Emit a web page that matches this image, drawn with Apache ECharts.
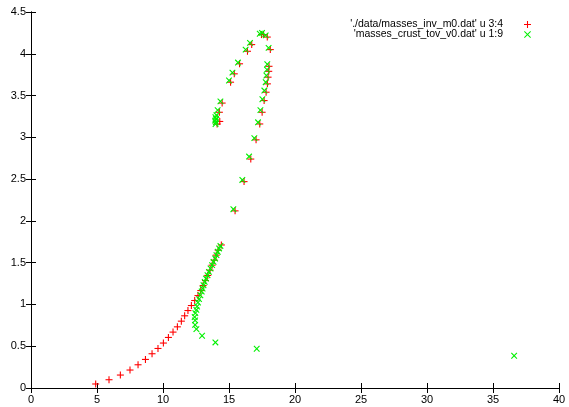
<!DOCTYPE html>
<html>
<head>
<meta charset="utf-8">
<script src="https://cdn.jsdelivr.net/npm/echarts@6/dist/echarts.min.js"></script>
<style>html,body{margin:0;padding:0;background:#fff}#c{width:569px;height:407px}</style>
</head>
<body>
<div id="c"></div>
<script>
var seriesNames = ["'./data/masses_inv_m0.dat' u 3:4", "'masses_crust_tov_v0.dat' u 1:9"];
var xTicks = [0, 5, 10, 15, 20, 25, 30, 35, 40];
var yTicks = [0, 0.5, 1, 1.5, 2, 2.5, 3, 3.5, 4, 4.5];

var invRadius = [4.90,5.91,6.77,7.50,8.11,8.67,9.17,9.62,10.03,10.41,10.76,11.09,11.39,11.64,11.89,12.15,12.40,12.65,12.86,
  13.04,13.22,13.39,13.56,13.72,13.88,14.03,14.18,14.42,
  15.46,16.14,16.65,17.05,17.33,17.51,17.66,17.81,17.91,17.96,18.01,18.03,18.13,17.90,17.62,17.46,16.72,16.40,15.80,15.40,15.12,14.48,14.27,14.30,14.10];
var invMass = [0.048,0.099,0.155,0.215,0.278,0.342,0.410,0.473,0.538,0.605,0.669,0.732,0.800,0.864,0.927,0.987,1.047,1.106,1.166,
  1.226,1.286,1.347,1.410,1.470,1.530,1.590,1.650,1.712,
  2.12,2.47,2.74,2.97,3.16,3.30,3.44,3.54,3.64,3.72,3.79,3.85,4.05,4.20,4.23,4.23,4.11,4.03,3.88,3.76,3.66,3.41,3.30,3.19,3.16];

var tovRadius = [13.98,14.00,13.95,14.02,13.97,14.05,14.14,14.35,15.00,15.26,15.68,16.26,16.59,17.33,17.50,17.78,18.00,
  17.90,17.88,17.83,17.78,17.68,17.53,17.38,17.20,16.92,16.52,16.01,15.33,14.35,
  14.25,14.15,14.05,13.95,13.83,13.72,13.60,13.48,13.37,13.26,13.16,13.07,13.00,12.93,12.83,12.73,12.65,12.58,12.53,12.45,12.40,12.43,12.43,12.53,12.96,13.97,17.10,36.60];
var tovMass = [3.16,3.18,3.20,3.22,3.24,3.265,3.325,3.43,3.68,3.775,3.895,4.05,4.13,4.24,4.25,4.22,4.07,
  3.875,3.81,3.74,3.66,3.56,3.456,3.325,3.18,2.99,2.77,2.49,2.14,1.70,
  1.67,1.63,1.59,1.55,1.51,1.47,1.43,1.39,1.35,1.31,1.27,1.23,1.19,1.155,1.11,1.063,1.023,0.975,0.935,0.896,0.85,0.81,0.756,0.705,0.625,0.545,0.47,0.386];

function pairs(xs, ys){ var out=[]; for(var i=0;i<xs.length;i++) out.push([xs[i], ys[i]]); return out; }

var plusIcon = 'path://M-0.15,-1 L0.15,-1 L0.15,-0.15 L1,-0.15 L1,0.15 L0.15,0.15 L0.15,1 L-0.15,1 L-0.15,0.15 L-1,0.15 L-1,-0.15 L-0.15,-0.15 Z';
var crossIcon = 'path://M-1,-0.8 L-0.8,-1 L0,-0.2 L0.8,-1 L1,-0.8 L0.2,0 L1,0.8 L0.8,1 L0,0.2 L-0.8,1 L-1,0.8 L-0.2,0 Z';

function markerRenderer(kind, half, color){
  return function(params, api){
    var p = api.coord([api.value(0), api.value(1)]);
    var x = p[0], y = p[1], s = half;
    var style = {stroke: color, lineWidth: 1.1, fill: null};
    var shapes;
    if (kind === 'plus') {
      shapes = [
        {type:'line', shape:{x1:x - s, y1:y, x2:x + s, y2:y}, style:style},
        {type:'line', shape:{x1:x, y1:y - s, x2:x, y2:y + s}, style:style}
      ];
    } else {
      shapes = [
        {type:'line', shape:{x1:x - s, y1:y - s, x2:x + s, y2:y + s}, style:style},
        {type:'line', shape:{x1:x - s, y1:y + s, x2:x + s, y2:y - s}, style:style}
      ];
    }
    return {type:'group', children:shapes};
  };
}

var font = 'Liberation Sans, Arial, Helvetica, sans-serif';
var axisLine = {show:true, lineStyle:{color:'#000', width:1}};
var tickIn = {show:true, inside:true, length:5, lineStyle:{color:'#000', width:1}};

var chart = echarts.init(document.getElementById('c'), null, {renderer:'canvas'});
chart.setOption({
  animation:false,
  backgroundColor:'#fff',
  grid:{left:31, right:10, top:12, bottom:19, containLabel:false},
  legend:{
    orient:'vertical', right:33, top:14, align:'right', itemGap:-1,
    itemWidth:7, itemHeight:7, selectedMode:false,
    formatter:function(n){ return '{t|' + n + '}{s|\u00a0}'; },
    textStyle:{fontFamily:font, fontSize:10.5, color:'#000',
      rich:{t:{fontFamily:font, fontSize:10.5, color:'#000', lineHeight:12}, s:{width:16, fontSize:10.5}}},
    data:[
      {name:seriesNames[0], icon:plusIcon, itemStyle:{color:'#ff0000'}},
      {name:seriesNames[1], icon:crossIcon, itemStyle:{color:'#00f000'}}
    ]
  },
  xAxis:[
    {type:'value', min:0, max:40, interval:5, position:'bottom',
     axisLine:axisLine, axisTick:tickIn, splitLine:{show:false},
     axisLabel:{fontFamily:font, fontSize:11, color:'#000', margin:6,
       formatter:function(v){return xTicks.indexOf(v)>=0 ? String(v) : '';}}},
    {type:'value', min:0, max:40, interval:5, position:'top',
     axisLine:axisLine, axisTick:tickIn, splitLine:{show:false}, axisLabel:{show:false}}
  ],
  yAxis:[
    {type:'value', min:0, max:4.5, interval:0.5, position:'left',
     axisLine:axisLine, axisTick:tickIn, splitLine:{show:false},
     axisLabel:{fontFamily:font, fontSize:11, color:'#000', margin:5,
       formatter:function(v){return yTicks.indexOf(v)>=0 ? String(v) : '';}}},
    {type:'value', min:0, max:4.5, interval:0.5, position:'right',
     axisLine:axisLine, axisTick:tickIn, splitLine:{show:false}, axisLabel:{show:false}}
  ],
  series:[
    {name:seriesNames[0], type:'custom', xAxisIndex:0, yAxisIndex:0,
     itemStyle:{color:'#ff0000'}, encode:{x:0, y:1},
     renderItem:markerRenderer('plus', 3.5, '#ff0000'), data:pairs(invRadius, invMass)},
    {name:seriesNames[1], type:'custom', xAxisIndex:0, yAxisIndex:0,
     itemStyle:{color:'#00f000'}, encode:{x:0, y:1},
     renderItem:markerRenderer('cross', 2.8, '#00f000'), data:pairs(tovRadius, tovMass)}
  ]
});
</script>
</body>
</html>
